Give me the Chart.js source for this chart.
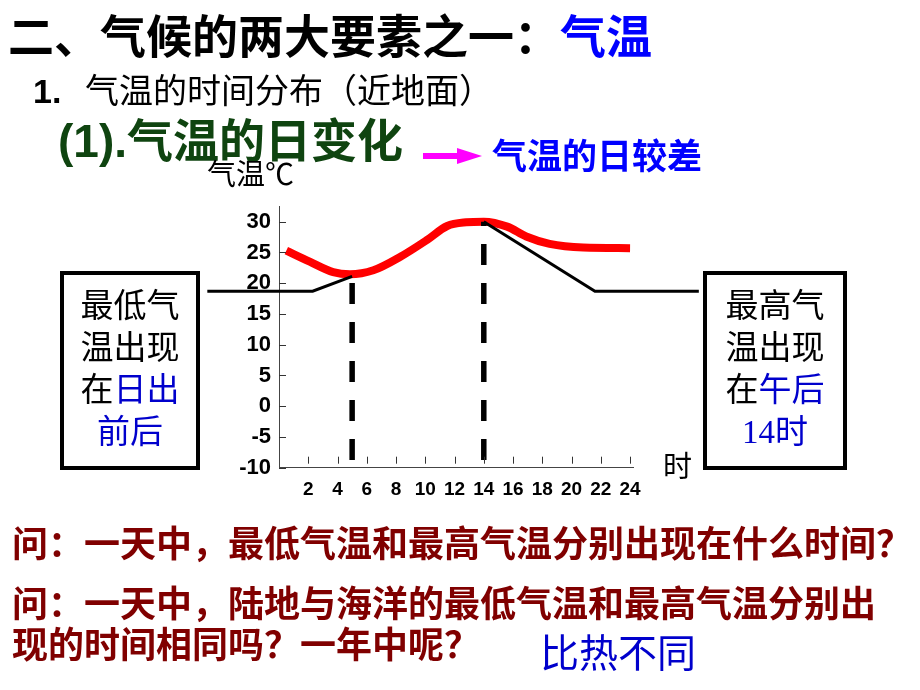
<!DOCTYPE html>
<html>
<head>
<meta charset="utf-8">
<script src="https://cdn.jsdelivr.net/npm/chart.js@4"></script>
<style>
  body { margin: 0; background: #fff; }
  #wrap { position: relative; width: 920px; height: 690px; overflow: hidden; }
  #chart { position: absolute; left: 0; top: 0; }
  .t { position: absolute; white-space: nowrap; line-height: 1; font-family: "Liberation Sans", "Noto Sans CJK SC", sans-serif; }
  .box { position: absolute; box-sizing: border-box; border: 4px solid #000; background: #fff; }
  .boxtext { position: absolute; left: 0; right: 0; text-align: center; font-size: 33px; line-height: 42px; font-family: "Liberation Sans", "Noto Sans CJK SC", sans-serif; color: #000; }
  .blue { color: #0000cc; }
  .q { color: #800000; font-weight: bold; font-size: 36px; }
</style>
</head>
<body>
<div id="wrap">
  <canvas id="chart" width="920" height="690"></canvas>

  <div class="t" style="left:8px; top:14px; font-size:46px; font-weight:bold;">二、气候的两大要素之一：<span style="color:#0000ff">气温</span></div>
  <div class="t" style="left:33px; top:74px; font-size:34px; font-weight:bold;">1.</div>
  <div class="t" style="left:85px; top:74px; font-size:34px;">气温的时间分布（近地面）</div>
  <div class="t" style="left:58px; top:118px; font-size:46px; font-weight:bold; color:#0f4410;">(1).气温的日变化</div>
  <svg style="position:absolute; left:0; top:0;" width="920" height="690">
    <rect x="423" y="153" width="35" height="6" fill="#ff00ff"></rect>
    <polygon points="457,148 482,156 457,164" fill="#ff00ff"></polygon>
  </svg>
  <div class="t" style="left:492px; top:139px; font-size:35px; font-weight:bold; color:#0000ff;">气温的日较差</div>
  <div class="t" style="left:207px; top:161px; font-size:29px;">气温℃</div>
  <div class="t" style="left:663px; top:453px; font-size:29px;">时</div>

  <div class="box" style="left:60px; top:271px; width:140px; height:199px;">
    <div class="boxtext" style="top:10px;">最低气<br>温出现<br>在<span class="blue">日出</span><br><span class="blue">前后</span></div>
  </div>
  <div class="box" style="left:703px; top:271px; width:144px; height:199px;">
    <div class="boxtext" style="top:10px;">最高气<br>温出现<br>在<span class="blue">午后</span><br><span class="blue"><span style="font-family:'Liberation Serif'">14</span>时</span></div>
  </div>

  <div class="t q" style="left:12px; top:527px;">问：一天中，最低气温和最高气温分别出现在什么时间？</div>
  <div class="t q" style="left:12px; top:587px;">问：一天中，陆地与海洋的最低气温和最高气温分别出</div>
  <div class="t q" style="left:12px; top:628px;">现的时间相同吗？一年中呢？</div>
  <div class="t" style="left:540px; top:634px; font-size:39px; color:#0000cc;">比热不同</div>
</div>

<script>
// 日变化曲线 (红线)
const hours = [0.5, 2.1, 3.7, 4.85, 6.45, 8.3, 10.1, 11.5, 12.8, 14, 15.6, 16.9, 18.5, 20.8, 24];
const dayTemps = [25.3, 23.5, 21.8, 21.45, 22.1, 24.3, 27.0, 29.3, 29.9, 30.0, 29.2, 27.6, 26.4, 25.8, 25.7];

// 黑色折线 (伸到两侧方框, 5时到14时之间断开)
const lineHours = [-4.9, 2.3, 5, 9, 14, 21.6, 28.7];
const lineTemps = [18.7, 18.7, 21.1, null, 30, 18.7, 18.7];

// 虚线: 最低 5时, 最高 14时
const minHour = 5, maxHour = 14;
const minDash = [-8.75, 20.9];
const maxDash = [-8.75, 30];

const yTicks = [-10, -5, 0, 5, 10, 15, 20, 25, 30];
const xTicks = [2, 4, 6, 8, 10, 12, 14, 16, 18, 20, 22, 24];

const toPoints = (xs, ys) => xs.map((x, i) => ({ x: x, y: ys[i] }));

var innerTicks = {
  id: 'innerTicks',
  afterDraw: function (chart) {
    var ctx = chart.ctx, sx = chart.scales.x, sy = chart.scales.y;
    ctx.save();
    ctx.strokeStyle = '#333';
    ctx.lineWidth = 1;
    ctx.beginPath();
    for (var v of yTicks) {
      var py = Math.round(sy.getPixelForValue(v)) + 0.5;
      ctx.moveTo(sx.left, py);
      ctx.lineTo(sx.left + 7, py);
    }
    for (var h of xTicks) {
      var px = Math.round(sx.getPixelForValue(h)) + 0.5;
      ctx.moveTo(px, sy.bottom - 11);
      ctx.lineTo(px, sy.bottom - 4);
    }
    ctx.stroke();
    ctx.restore();
  }
};

new Chart(document.getElementById('chart'), {
  type: 'line',
  data: {
    datasets: [
      {
        data: toPoints(lineHours, lineTemps),
        borderColor: '#000', borderWidth: 3, pointRadius: 0, tension: 0, clip: false, spanGaps: false
      },
      {
        data: toPoints([minHour, minHour], minDash),
        borderColor: '#000', borderWidth: 5.5, borderDash: [21, 18], pointRadius: 0
      },
      {
        data: toPoints([maxHour, maxHour], maxDash),
        borderColor: '#000', borderWidth: 5.5, borderDash: [21, 18], pointRadius: 0
      },
      {
        data: toPoints(hours, dayTemps),
        borderColor: '#ff0000', borderWidth: 8, pointRadius: 0,
        tension: 0.4, cubicInterpolationMode: 'monotone'
      }
    ]
  },
  options: {
    responsive: false,
    animation: false,
    devicePixelRatio: 1,
    layout: { padding: { left: 219, right: 287, top: 206.7, bottom: 182.3 } },
    plugins: { legend: { display: false }, tooltip: { enabled: false } },
    scales: {
      x: {
        type: 'linear', min: 0, max: 24.2,
        afterFit: function (s) { s.height = 40; },
        afterBuildTicks: function (s) { s.ticks = xTicks.map(v => ({ value: v })); },
        grid: { display: false, drawTicks: false },
        border: { color: '#444', width: 1 },
        ticks: { color: '#000', font: { family: 'Liberation Sans', size: 19, weight: 'bold' }, padding: 11, maxRotation: 0, autoSkip: false }
      },
      y: {
        type: 'linear', min: -10, max: 32.44,
        afterFit: function (s) { s.width = 60; },
        afterBuildTicks: function (s) { s.ticks = yTicks.map(v => ({ value: v })); },
        grid: { display: false, drawTicks: false },
        border: { color: '#444', width: 1 },
        ticks: { color: '#000', font: { family: 'Liberation Sans', size: 22, weight: 'bold' }, padding: 8 }
      }
    }
  },
  plugins: [innerTicks]
});
</script>
</body>
</html>
